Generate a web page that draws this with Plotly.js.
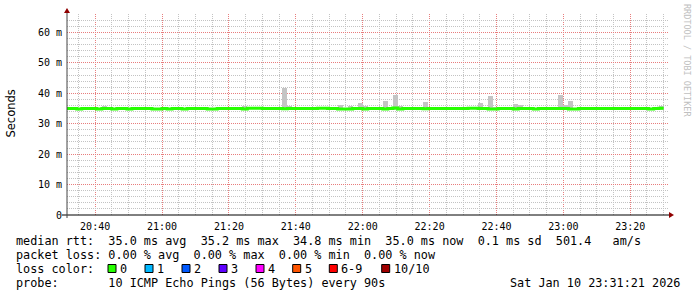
<!DOCTYPE html>
<html><head><meta charset="utf-8">
<script src="https://cdn.plot.ly/plotly-3.0.1.min.js"></script>
<style>html,body{margin:0;padding:0;background:#fff;} #chart{width:697px;height:297px;}
#chart .layer-below .shapelayer path { shape-rendering: crispEdges; }
</style>
</head><body><div id="chart"></div>
<script>
// ---- data ----
const firstBinUTC = Date.UTC(2026, 0, 10, 20, 31, 30);
const stepMs = 90000; // 90 s probe step
const medianRtt = [
  35.0,35.0,34.8,35.0,35.0,35.0,34.8,35.0,35.0,34.8,
  35.0,35.0,34.8,35.0,35.0,35.0,35.0,34.8,34.8,35.0,
  34.8,35.0,35.0,34.8,35.0,35.0,35.0,35.0,34.8,34.8,
  35.0,35.0,35.0,35.0,35.0,34.8,35.1,35.1,35.1,35.0,
  35.0,35.0,35.0,34.9,35.0,35.0,35.0,35.0,35.0,35.0,
  35.1,35.1,35.0,35.0,34.8,34.8,34.8,35.0,35.0,34.8,
  35.0,35.0,35.0,34.8,35.0,35.2,34.8,35.0,35.0,35.0,
  35.0,34.9,35.0,35.0,35.0,35.0,35.0,35.0,35.0,35.0,
  35.1,35.1,35.0,35.0,34.8,34.8,35.0,35.0,35.0,34.8,
  35.0,35.0,35.0,34.8,35.0,35.0,35.0,35.0,35.0,35.0,
  34.8,34.8,35.0,35.0,35.0,35.0,35.0,35.0,35.0,35.0,
  35.0,35.0,35.0,35.0,35.0,35.0,34.8,35.0,35.1
];
const smokeBins = [7,35,43,44,54,56,58,59,62,63,65,66,67,71,82,84,85,89,90,98,99,100,115,118];
const smokeLow  = [34.5,34.5,34.5,34.5,34.5,34.5,34.5,34.5,34.5,34.5,34.5,34.5,34.5,34.5,34.5,34.5,34.5,34.5,34.5,34.5,34.5,34.5,34.5,34.5];
const smokeHigh = [35.8,35.8,41.7,35.7,36.0,35.7,36.7,35.7,35.5,37.4,39.3,35.7,35.4,37.0,36.7,39.0,35.5,36.4,36.0,39.3,36.0,37.4,35.5,35.7];
const yTickVals = [0,10,20,30,40,50,60];
const yTickText = ['0','10 m','20 m','30 m','40 m','50 m','60 m'];
const lossLabels = ['0','1','2','3','4','5','6-9','10/10'];
const lossColors = ['#26ff00','#00b8ff','#0059ff','#5e00ff','#ff00ff','#ff5500','#ff0000','#a00000'];
const legendLine1 = 'median rtt:  35.0 ms avg  35.2 ms max  34.8 ms min  35.0 ms now  0.1 ms sd  501.4   am/s';
const legendLine2 = 'packet loss: 0.00 % avg  0.00 % max  0.00 % min  0.00 % now';
const legendLine3 = 'loss color:';
const legendLine4 = 'probe:       10 ICMP Echo Pings (56 Bytes) every 90s';
const stampText = 'Sat Jan 10 23:31:21 2026';
const lossSquareX = [108,145,182,219,256,292.7,329.3,381.7];

// ---- geometry helpers (pixel -> paper) ----
const PL = 67, PT = 14, PW = 602, PH = 201;
const ax = px => (px - PL) / PW;
const ay = py => (PT + PH - py) / PH;

const xStart = Date.UTC(2026, 0, 10, 20, 31, 35);
const xEnd = xStart + 3 * 3600 * 1000;
const majorTick0 = Date.UTC(2026, 0, 10, 20, 40);

const lineX = medianRtt.map((v, k) => firstBinUTC + k * stepMs);
lineX.push(firstBinUTC + medianRtt.length * stepMs);
const lineY = medianRtt.slice();
lineY.push(medianRtt[medianRtt.length - 1]);

const smoke = {
  type: 'bar',
  x: smokeBins.map(k => firstBinUTC + (k + 0.5) * stepMs),
  y: smokeHigh.map((h, i) => h - smokeLow[i]),
  base: smokeLow,
  width: smokeBins.map(() => stepMs),
  marker: {color: '#c4c4c4', line: {width: 0}},
  hoverinfo: 'skip'
};
const median = {
  type: 'scatter', mode: 'lines',
  x: lineX, y: lineY,
  line: {shape: 'hv', color: '#26ff00', width: 3},
  hoverinfo: 'skip'
};

const mono = 'DejaVu Sans Mono, monospace';
const annotations = [];
function txt(text, x, y, size, extra) {
  annotations.push(Object.assign({
    xref: 'paper', yref: 'paper', x: ax(x), y: ay(y), text: text.replace(/ /g, '\u00a0'),
    showarrow: false, xanchor: 'left', yanchor: 'middle', borderpad: 0, borderwidth: 0,
    font: {family: mono, size: size, color: '#000'}
  }, extra || {}));
}
const LF = 11.8;
txt(legendLine1, 16, 241, LF);
txt(legendLine2, 16, 255, LF);
txt(legendLine3, 16, 269, LF);
lossLabels.forEach((t, i) => txt(t, lossSquareX[i] + 12, 269, LF));
txt(legendLine4, 16, 283, LF);
txt(stampText, 680, 283, LF, {xanchor: 'right'});
// axis title
annotations.push({xref:'paper', yref:'paper', x: ax(10), y: ay(113.5), text:'Seconds', textangle:-90,
  showarrow:false, xanchor:'center', yanchor:'middle', font:{family:'DejaVu Sans, sans-serif', size:11.5, color:'#000'}});
// watermark
annotations.push({xref:'paper', yref:'paper', x: ax(687), y: ay(60), text:'RRDTOOL / TOBI OETIKER', textangle:90,
  showarrow:false, xanchor:'center', yanchor:'middle', font:{family: mono, size:8.5, color:'#c0c0c0'}});

const majorGrid = 'rgb(232,125,125)';
const minorGrid = 'rgb(195,195,195)';

const shapes = [];
// vertical grid (5-min minor, 20-min major)
for (let t = Date.UTC(2026, 0, 10, 20, 35); t < xEnd; t += 5 * 60000) {
  const major = (t - majorTick0) % (20 * 60000) === 0;
  shapes.push({type:'line', layer:'below', xref:'x', yref:'paper', x0:t, x1:t, y0:0, y1:1,
    line:{color: major ? majorGrid : minorGrid, width:1, dash:'1px,1px'}});
}
// axis lines
shapes.push({type:'line', xref:'paper', yref:'paper', x0: ax(62), x1: ax(670), y0: ay(215), y1: ay(215), line:{color:'#000', width:1}});
shapes.push({type:'line', xref:'paper', yref:'paper', x0: ax(67), x1: ax(67), y0: ay(218), y1: ay(11), line:{color:'#444', width:1}});
// arrows
shapes.push({type:'path', xref:'paper', yref:'paper', path:
  `M ${ax(669)} ${ay(212)} L ${ax(674)} ${ay(215)} L ${ax(669)} ${ay(218)} Z`, fillcolor:'#900000', line:{width:0}});
shapes.push({type:'path', xref:'paper', yref:'paper', path:
  `M ${ax(64)} ${ay(13)} L ${ax(67)} ${ay(8)} L ${ax(70)} ${ay(13)} Z`, fillcolor:'#900000', line:{width:0}});
// loss colour squares
lossColors.forEach((c, i) => shapes.push({type:'rect', xref:'paper', yref:'paper',
  x0: ax(lossSquareX[i]), x1: ax(lossSquareX[i] + 8), y0: ay(272.5), y1: ay(264.5),
  fillcolor: c, line: {color:'#000', width:1}}));

const layout = {
  width: 697, height: 297,
  margin: {l: PL, r: 697 - PL - PW, t: PT, b: 297 - PT - PH, pad: 0},
  paper_bgcolor: '#fff', plot_bgcolor: '#fff',
  showlegend: false, barmode: 'overlay', bargap: 0,
  xaxis: {
    type: 'date', range: [xStart, xEnd], tickmode: 'linear',
    tick0: majorTick0, dtick: 20 * 60000, tickformat: '%H:%M',
    showgrid: false,
    showline: false, zeroline: false, ticks: '', ticklabelstandoff: 4,
    tickfont: {family: mono, size: 10, color: '#000'}, fixedrange: true
  },
  yaxis: {
    range: [0, 66.05], tickmode: 'array', tickvals: yTickVals, ticktext: yTickText,
    showgrid: true, gridcolor: majorGrid, gridwidth: 1, griddash: '1px,1px',
    minor: {tickmode: 'linear', tick0: 0, dtick: 2, showgrid: true,
            gridcolor: minorGrid, gridwidth: 1, griddash: '1px,1px'},
    showline: false, zeroline: false, ticks: '', ticklabelstandoff: 4,
    tickfont: {family: mono, size: 10, color: '#000'}, fixedrange: true
  },
  shapes: shapes,
  annotations: annotations
};
Plotly.newPlot('chart', [smoke, median], layout, {staticPlot: true, displayModeBar: false});
</script>
</body></html>
